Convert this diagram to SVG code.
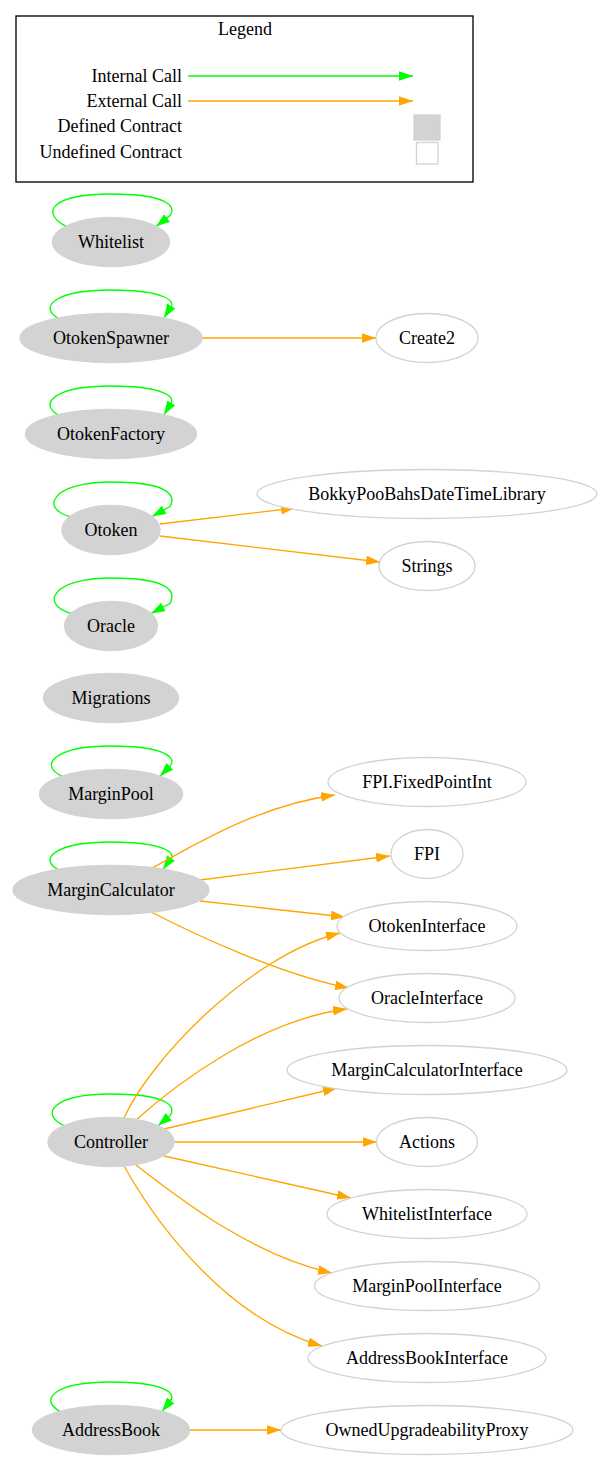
<svg xmlns="http://www.w3.org/2000/svg" width="602" height="1460" viewBox="0 0 602 1460" font-family="'Liberation Serif', 'DejaVu Serif', serif">
<style>
text{font-family:'Liberation Serif','DejaVu Serif',serif;font-size:18px;fill:#000;text-anchor:middle}
.lbl{text-anchor:end}
.def{fill:#d3d3d3;stroke:#d3d3d3;stroke-width:1.33}
.und{fill:#fff;stroke:#d3d3d3;stroke-width:1.33}
.int{fill:none;stroke:#00ff00;stroke-width:1.33;marker-end:url(#ag)}
.ext{fill:none;stroke:#ffa500;stroke-width:1.33;marker-end:url(#ao)}
</style>
<defs>
<marker id="ag" markerUnits="userSpaceOnUse" markerWidth="14" markerHeight="10" viewBox="0 0 14 10" refX="14" refY="5" orient="auto"><path d="M0,0.2 L14,5 L0,9.8 z" fill="#00ff00"/></marker>
<marker id="ao" markerUnits="userSpaceOnUse" markerWidth="14" markerHeight="10" viewBox="0 0 14 10" refX="14" refY="5" orient="auto"><path d="M0,0.2 L14,5 L0,9.8 z" fill="#ffa500"/></marker>
</defs>
<rect width="602" height="1460" fill="#fff"/>
<g id="legend">
<rect x="16" y="16" width="457" height="166" fill="none" stroke="#000" stroke-width="1.33"/>
<text x="245" y="35">Legend</text>
<text class="lbl" x="182" y="82">Internal Call</text>
<text class="lbl" x="182" y="107">External Call</text>
<text class="lbl" x="182" y="132">Defined Contract</text>
<text class="lbl" x="182" y="158">Undefined Contract</text>
<path class="int" d="M188,76 L413,76"/>
<path class="ext" d="M188,101 L413,101"/>
<rect x="414" y="115" width="26" height="25" fill="#d3d3d3" stroke="#d3d3d3" stroke-width="1.33"/>
<rect x="416.5" y="142.5" width="21.5" height="21.5" fill="#fff" stroke="#d3d3d3" stroke-width="1.33"/>
</g>
<g id="connectors">
<path class="int" d="M66,226.4 C39,212 53,194 111,194 C166,194 177,206 170,215.6 L156,226.4"/>
<path class="int" d="M58,318 C39,308 53,290 111,290 C166,290 177,302 170,308 L164,318"/>
<path class="int" d="M58,414.8 C39,404 53,386 111,386 C166,386 177,398 170,405 L164,414.8"/>
<path class="int" d="M70,516.6 C39,508 53,482 111,482 C166,482 177,494 170,506.6 L152,516.6"/>
<path class="int" d="M71,613.5 C39,604 53,578 111,578 C166,578 177,590 170,603.5 L151,613.5"/>
<path class="int" d="M62,776.2 C39,766 53,746 111,746 C166,746 177,758 170,766.2 L160,776.2"/>
<path class="int" d="M58,869.4 C39,860 53,842 111,842 C166,842 177,854 170,859.4 L163,869.4"/>
<path class="int" d="M64,1125.7 C39,1114 53,1094 111,1094 C166,1094 177,1106 170,1115.7 L158,1125.7"/>
<path class="int" d="M60,1411.4 C39,1400 53,1382 111,1382 C166,1382 177,1394 170,1401.4 L162,1411.4"/>
<path class="ext" d="M202,338 L376,338"/>
<path class="ext" d="M160,524 L295,508"/>
<path class="ext" d="M160,536 L380,562"/>
<path class="ext" d="M152,868 C190,848 255,806 335,795"/>
<path class="ext" d="M200,880 L390,856"/>
<path class="ext" d="M200,901 L345,917"/>
<path class="ext" d="M151,912 C190,932 280,975 349,988"/>
<path class="ext" d="M124,1118 C150,1060 250,955 340,933"/>
<path class="ext" d="M136,1120 C175,1085 260,1020 347,1009"/>
<path class="ext" d="M164,1129 L337,1088"/>
<path class="ext" d="M174,1142 L377,1142"/>
<path class="ext" d="M164,1156 L351,1198"/>
<path class="ext" d="M136,1165 C175,1195 250,1255 332,1273"/>
<path class="ext" d="M124,1166 C160,1230 230,1320 322,1346"/>
<path class="ext" d="M189,1430 L281,1430"/>
</g>
<g id="Whitelist"><ellipse class="def" cx="111" cy="242" rx="58.5" ry="24.5"/><text x="111" y="248">Whitelist</text></g>
<g id="OtokenSpawner"><ellipse class="def" cx="111" cy="338" rx="91" ry="24.5"/><text x="111" y="344">OtokenSpawner</text></g>
<g id="OtokenFactory"><ellipse class="def" cx="111" cy="434" rx="85.5" ry="24.5"/><text x="111" y="440">OtokenFactory</text></g>
<g id="Otoken"><ellipse class="def" cx="111" cy="530" rx="49" ry="24.5"/><text x="111" y="536">Otoken</text></g>
<g id="Oracle"><ellipse class="def" cx="111" cy="626" rx="46.5" ry="24.5"/><text x="111" y="632">Oracle</text></g>
<g id="Migrations"><ellipse class="def" cx="111" cy="698" rx="67.5" ry="24.5"/><text x="111" y="704">Migrations</text></g>
<g id="MarginPool"><ellipse class="def" cx="111" cy="794" rx="71.5" ry="24.5"/><text x="111" y="800">MarginPool</text></g>
<g id="MarginCalculator"><ellipse class="def" cx="111" cy="890" rx="98" ry="24.5"/><text x="111" y="896">MarginCalculator</text></g>
<g id="Controller"><ellipse class="def" cx="111" cy="1142" rx="63" ry="24.5"/><text x="111" y="1148">Controller</text></g>
<g id="AddressBook"><ellipse class="def" cx="111" cy="1430" rx="78.5" ry="24.5"/><text x="111" y="1436">AddressBook</text></g>
<g id="Create2"><ellipse class="und" cx="427" cy="338" rx="51" ry="24.5"/><text x="427" y="344">Create2</text></g>
<g id="BokkyPooBahsDateTimeLibrary"><ellipse class="und" cx="427" cy="494" rx="170" ry="24.5"/><text x="427" y="500">BokkyPooBahsDateTimeLibrary</text></g>
<g id="Strings"><ellipse class="und" cx="427" cy="566" rx="48" ry="24.5"/><text x="427" y="572">Strings</text></g>
<g id="FPI.FixedPointInt"><ellipse class="und" cx="427" cy="782" rx="99" ry="24.5"/><text x="427" y="788">FPI.FixedPointInt</text></g>
<g id="FPI"><ellipse class="und" cx="427" cy="854" rx="36" ry="24.5"/><text x="427" y="860">FPI</text></g>
<g id="OtokenInterface"><ellipse class="und" cx="427" cy="926" rx="90" ry="24.5"/><text x="427" y="932">OtokenInterface</text></g>
<g id="OracleInterface"><ellipse class="und" cx="427" cy="998" rx="88" ry="24.5"/><text x="427" y="1004">OracleInterface</text></g>
<g id="MarginCalculatorInterface"><ellipse class="und" cx="427" cy="1070" rx="140" ry="24.5"/><text x="427" y="1076">MarginCalculatorInterface</text></g>
<g id="Actions"><ellipse class="und" cx="427" cy="1142" rx="50.5" ry="24.5"/><text x="427" y="1148">Actions</text></g>
<g id="WhitelistInterface"><ellipse class="und" cx="427" cy="1214" rx="100" ry="24.5"/><text x="427" y="1220">WhitelistInterface</text></g>
<g id="MarginPoolInterface"><ellipse class="und" cx="427" cy="1286" rx="112.5" ry="24.5"/><text x="427" y="1292">MarginPoolInterface</text></g>
<g id="AddressBookInterface"><ellipse class="und" cx="427" cy="1358" rx="119" ry="24.5"/><text x="427" y="1364">AddressBookInterface</text></g>
<g id="OwnedUpgradeabilityProxy"><ellipse class="und" cx="427" cy="1430" rx="146" ry="24.5"/><text x="427" y="1436">OwnedUpgradeabilityProxy</text></g>
</svg>
